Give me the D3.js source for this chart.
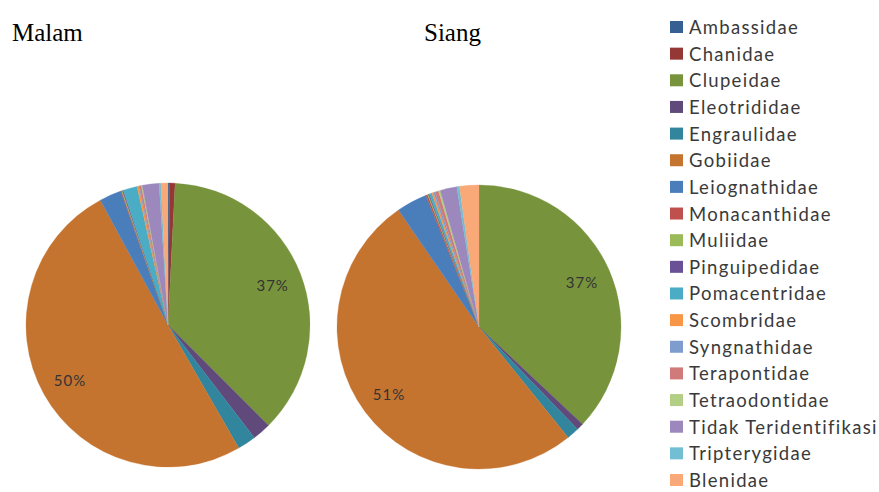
<!DOCTYPE html>
<html>
<head>
<meta charset="utf-8">
<script src="https://cdn.jsdelivr.net/npm/d3@7"></script>
<style>
  html, body { margin: 0; padding: 0; background: #fff; }
  svg { display: block; }
</style>
</head>
<body>
<svg id="chart" width="879" height="492"></svg>
<script>
const categories = ["Ambassidae","Chanidae","Clupeidae","Eleotrididae","Engraulidae","Gobiidae",
  "Leiognathidae","Monacanthidae","Muliidae","Pinguipedidae","Pomacentridae","Scombridae",
  "Syngnathidae","Terapontidae","Tetraodontidae","Tidak Teridentifikasi","Tripterygidae","Blenidae"];
const malamValues = [0.2, 0.6, 36.7, 2.1, 2.1, 50.4, 2.5, 0.1, 0.1, 0.1, 1.6, 0.2, 0.1, 0.2, 0.1, 1.9, 0.2, 0.8];
const siangValues = [0, 0, 37.0, 0.8, 1.4, 51.2, 3.5, 0.2, 0.1, 0.1, 0.3, 0.2, 0.2, 0.4, 0.2, 1.9, 0.3, 2.2];
const panelTitles = ["Malam", "Siang"];
const colors = ["#376092","#953735","#77933C","#604A7B","#31859C","#C5742F",
  "#4A7EBB","#C0504D","#9BBB59","#6A5096","#4BACC6","#F79646",
  "#7F9CCF","#D07B7A","#B3CF86","#9C88BC","#72BED3","#F9A877"];

const svg = d3.select("#chart");
const color = d3.scaleOrdinal().domain(categories).range(colors);
const R = 142;
const panels = [
  { title: panelTitles[0], values: malamValues, cx: 168, cy: 325, tx: 12 },
  { title: panelTitles[1], values: siangValues, cx: 479, cy: 327, tx: 424 }
];

const pie = d3.pie().sort(null).value(d => d.v);
const arc = d3.arc().innerRadius(0).outerRadius(R);
const labelArc = d3.arc().innerRadius(R * 0.79).outerRadius(R * 0.79);

panels.forEach(p => {
  const data = categories.map((c, i) => ({ c, v: p.values[i] }));
  const g = svg.append("g").attr("transform", `translate(${p.cx},${p.cy})`);
  const arcs = pie(data);
  g.selectAll("path").data(arcs).join("path")
    .attr("d", arc)
    .attr("fill", d => color(d.data.c))
    .attr("stroke", d => color(d.data.c))
    .attr("stroke-width", 0.3);
  g.selectAll("text").data(arcs.filter(d => d.data.v >= 10)).join("text")
    .attr("transform", d => `translate(${labelArc.centroid(d)})`)
    .attr("text-anchor", "middle")
    .attr("dominant-baseline", "central")
    .attr("font-family", "Lato, sans-serif")
    .attr("font-size", 15)
    .attr("letter-spacing", "1px")
    .attr("fill", "#333")
    .text(d => Math.round(d.data.v) + "%");
  svg.append("text")
    .attr("x", p.tx).attr("y", 41)
    .attr("font-family", "Liberation Serif, Times New Roman, serif")
    .attr("font-size", 25)
    .attr("fill", "#000")
    .text(p.title);
});

const ly = d3.scalePoint().domain(categories).range([27, 480]);
const legend = svg.append("g");
const items = legend.selectAll("g").data(categories).join("g")
  .attr("transform", d => `translate(0,${ly(d)})`);
items.append("rect")
  .attr("x", 670).attr("y", -6).attr("width", 13).attr("height", 12)
  .attr("fill", d => color(d));
items.append("text")
  .attr("x", 689).attr("y", 0)
  .attr("dominant-baseline", "central")
  .attr("font-family", "Lato, sans-serif")
  .attr("font-size", 18.5)
  .attr("letter-spacing", "1.3px")
  .attr("fill", "#3a3a3a")
  .text(d => d);
</script>
</body>
</html>
